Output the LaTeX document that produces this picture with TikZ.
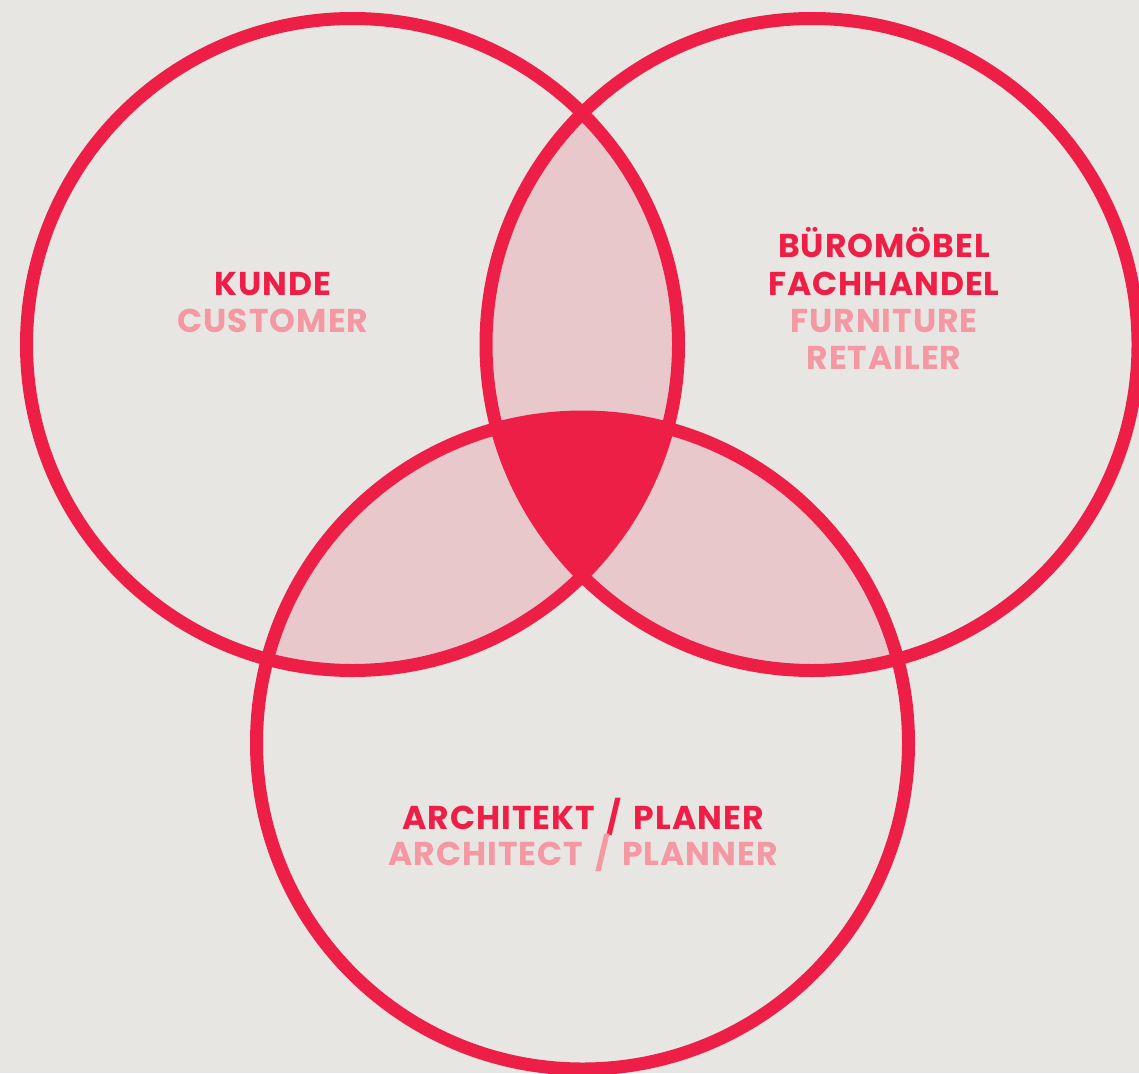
\documentclass[tikz,border=0pt]{standalone}
\usepackage{fontspec}
\setmainfont{Poppins}[LetterSpace=3, WordSpace=1.5]
\definecolor{vennred}{HTML}{EE1F47}
\definecolor{lenspink}{HTML}{E9C8CB}
\definecolor{paper}{HTML}{E8E6E2}
\definecolor{softred}{HTML}{F498A3}

\begin{document}
\begin{tikzpicture}[x=1pt, y=-1pt,
    ring/.style={draw=vennred, line width=13pt},
    de/.style={font=\fontsize{33}{37}\selectfont\bfseries, text=vennred, anchor=base, inner sep=0pt},
    en/.style={de, text=softred}
  ]

% Paper
\fill[paper] (0,0) rectangle (1139,1073);
\useasboundingbox (0,0) rectangle (1139,1073);

% Circle centres
\coordinate (kc) at (352.5,344.5);
\coordinate (fc) at (812,344.5);
\coordinate (ac) at (582.5,743);

% Pairwise overlaps
\begin{scope}
  \clip (kc) circle[radius=326pt];
  \fill[lenspink] (fc) circle[radius=326pt];
  \fill[lenspink] (ac) circle[radius=326pt];
\end{scope}
\begin{scope}
  \clip (fc) circle[radius=326pt];
  \fill[lenspink] (ac) circle[radius=326pt];
\end{scope}

% Common overlap
\begin{scope}
  \clip (kc) circle[radius=326pt];
  \clip (fc) circle[radius=326pt];
  \fill[vennred] (ac) circle[radius=326pt];
\end{scope}

% Rings
\draw[ring] (kc) circle[radius=326pt];
\draw[ring] (fc) circle[radius=326pt];
\draw[ring] (ac) circle[radius=326pt];

% Labels
\node[de] (kunde) at (273,295) {KUNDE};
\node[en] (customer) at (273,332) {CUSTOMER};

\node[de] (buero) at (884,257.5) {BÜROMÖBEL};
\node[de] (fach) at (884,295) {FACHHANDEL};
\node[en] (furniture) at (884,332) {FURNITURE};
\node[en] (retailer) at (884,369) {RETAILER};

\node[de] (architekt) at (583,829) {ARCHITEKT / PLANER};
\node[en] (architect) at (583,865) {ARCHITECT / PLANNER};

\end{tikzpicture}
\end{document}
